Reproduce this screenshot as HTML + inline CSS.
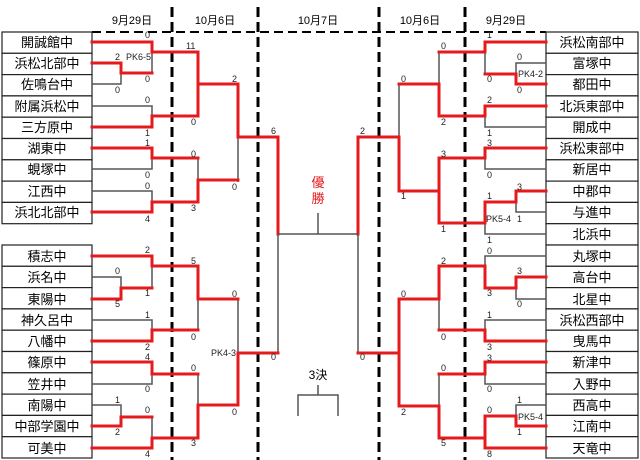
<!DOCTYPE html>
<html><head><meta charset="utf-8"><style>
html,body{margin:0;padding:0;background:#fff;}
svg{display:block;font-family:"Liberation Sans","Noto Sans CJK JP",sans-serif;}
.r{stroke:#e41a1c;stroke-width:3;fill:none;stroke-linecap:square}
.g{stroke:#555;stroke-width:1.5;fill:none}
.d{stroke:#000;stroke-width:3;stroke-dasharray:10 5;fill:none}
.dh{stroke:#000;stroke-width:2;stroke-dasharray:9 5;fill:none}
.n{font-size:9px;fill:#222}
.h{font-size:11px;fill:#000;text-anchor:middle}
.b{font-size:13px;fill:#000;text-anchor:middle}
rect{fill:#fff;stroke:#222;stroke-width:1.2}
</style></head><body>
<svg width="640" height="460" viewBox="0 0 640 460">
<!-- headers -->
<text class="h" x="132" y="24">9月29日</text>
<text class="h" x="215" y="24">10月6日</text>
<text class="h" x="318" y="24">10月7日</text>
<text class="h" x="420" y="24">10月6日</text>
<text class="h" x="506" y="24">9月29日</text>
<line class="dh" x1="92" y1="32" x2="546" y2="32"/>
<line class="d" x1="172" y1="7" x2="172" y2="460"/>
<line class="d" x1="258" y1="7" x2="258" y2="460"/>
<line class="d" x1="379" y1="7" x2="379" y2="460"/>
<line class="d" x1="465" y1="7" x2="465" y2="460"/>

<!-- left boxes -->
<g>
<rect x="2" y="32" width="90" height="21.3"/><rect x="2" y="53.3" width="90" height="21.3"/><rect x="2" y="74.6" width="90" height="21.3"/><rect x="2" y="95.9" width="90" height="21.3"/><rect x="2" y="117.2" width="90" height="21.3"/><rect x="2" y="138.5" width="90" height="21.3"/><rect x="2" y="159.8" width="90" height="21.3"/><rect x="2" y="181.1" width="90" height="21.3"/><rect x="2" y="202.4" width="90" height="21.3"/>
<rect x="2" y="245" width="90" height="21.3"/><rect x="2" y="266.3" width="90" height="21.3"/><rect x="2" y="287.6" width="90" height="21.3"/><rect x="2" y="308.9" width="90" height="21.3"/><rect x="2" y="330.2" width="90" height="21.3"/><rect x="2" y="351.5" width="90" height="21.3"/><rect x="2" y="372.8" width="90" height="21.3"/><rect x="2" y="394.1" width="90" height="21.3"/><rect x="2" y="415.4" width="90" height="21.3"/><rect x="2" y="436.7" width="90" height="21.3"/>
</g>
<g class="b">
<text x="47" y="47">開誠館中</text><text x="47" y="68">浜松北部中</text><text x="47" y="89">佐鳴台中</text><text x="47" y="111">附属浜松中</text><text x="47" y="132">三方原中</text><text x="47" y="153">湖東中</text><text x="47" y="174">蜆塚中</text><text x="47" y="196">江西中</text><text x="47" y="217">浜北北部中</text>
<text x="47" y="261">積志中</text><text x="47" y="282">浜名中</text><text x="47" y="304">東陽中</text><text x="47" y="325">神久呂中</text><text x="47" y="346">八幡中</text><text x="47" y="367">篠原中</text><text x="47" y="389">笠井中</text><text x="47" y="410">南陽中</text><text x="47" y="431">中部学園中</text><text x="47" y="453">可美中</text>
</g>
<!-- right boxes -->
<g>
<rect x="546" y="32" width="92" height="21.3"/><rect x="546" y="53.3" width="92" height="21.3"/><rect x="546" y="74.6" width="92" height="21.3"/><rect x="546" y="95.9" width="92" height="21.3"/><rect x="546" y="117.2" width="92" height="21.3"/><rect x="546" y="138.5" width="92" height="21.3"/><rect x="546" y="159.8" width="92" height="21.3"/><rect x="546" y="181.1" width="92" height="21.3"/><rect x="546" y="202.4" width="92" height="21.3"/><rect x="546" y="223.7" width="92" height="21.3"/>
<rect x="546" y="245" width="92" height="21.3"/><rect x="546" y="266.3" width="92" height="21.3"/><rect x="546" y="287.6" width="92" height="21.3"/><rect x="546" y="308.9" width="92" height="21.3"/><rect x="546" y="330.2" width="92" height="21.3"/><rect x="546" y="351.5" width="92" height="21.3"/><rect x="546" y="372.8" width="92" height="21.3"/><rect x="546" y="394.1" width="92" height="21.3"/><rect x="546" y="415.4" width="92" height="21.3"/><rect x="546" y="436.7" width="92" height="21.3"/>
</g>
<g class="b">
<text x="592" y="47">浜松南部中</text><text x="592" y="68">富塚中</text><text x="592" y="89">都田中</text><text x="592" y="111">北浜東部中</text><text x="592" y="132">開成中</text><text x="592" y="153">浜松東部中</text><text x="592" y="174">新居中</text><text x="592" y="196">中郡中</text><text x="592" y="217">与進中</text><text x="592" y="239">北浜中</text>
<text x="592" y="261">丸塚中</text><text x="592" y="282">高台中</text><text x="592" y="304">北星中</text><text x="592" y="325">浜松西部中</text><text x="592" y="346">曳馬中</text><text x="592" y="367">新津中</text><text x="592" y="389">入野中</text><text x="592" y="410">西高中</text><text x="592" y="431">江南中</text><text x="592" y="453">天竜中</text>
</g>

<!-- LEFT TOP lines -->
<path class="g" d="M92 84H121V73 M152 52V73 M92 106H152V116 M198 84V117 M92 169H152V158 M92 191H152V202 M198 159V180 M238 137V182"/>
<path class="r" d="M92 42H152V52H198V84H238V137H278V234 M92 63H121V73H152 M92 127H152V116H198V84 M92 148H152V158H198 M92 212H152V202H198V180H238"/>
<!-- LEFT BOTTOM lines -->
<path class="g" d="M92 277H121V288 M152 266V288 M92 320H152V330 M198 299V330 M92 384H152V374 M92 405H121V417 M152 417V438 M198 374V405 M238 299V353 M278 234V353"/>
<path class="r" d="M92 256H152V266H198V299H238 M92 299H121V288H152 M92 341H152V330H198 M92 362H152V374H198 M92 426H121V417H152 M92 448H152V438H198V405H238V353H278"/>

<!-- RIGHT TOP lines -->
<path class="g" d="M546 63H516V74 M485 52V74 M546 127H485V116 M439 52V84 M546 169H485V158 M546 212H516V202 M546 234H485V223 M399 84V137"/>
<path class="r" d="M546 42H485V52H439 M546 84H516V74H485 M546 106H485V116H439V84H399 M546 148H485V158H439V223 M546 191H516V202H485V223H439 M439 191H399V137H358V234"/>
<!-- RIGHT BOTTOM lines -->
<path class="g" d="M546 256H485V266 M546 299H516V288 M546 320H485V330 M439 299V330 M546 384H485V374 M546 405H516V416 M439 374V406 M358 234V353"/>
<path class="r" d="M546 277H516V288H485V266H439V299H399V406 M546 341H485V330H439 M546 362H485V374H439 M546 426H516V416H485 M546 448H485V416 M485 438H439V406H399 M399 353H358"/>

<!-- center -->
<path class="g" d="M278 234H358 M318 213V234 M298 416V395H338V416 M318 385V395"/>
<text x="318" y="187" style="font-size:13px;fill:#e41a1c;text-anchor:middle">優</text>
<text x="318" y="203" style="font-size:13px;fill:#e41a1c;text-anchor:middle">勝</text>
<text x="318" y="379" style="font-size:12px;fill:#000;text-anchor:middle">3決</text>

<!-- scores left -->
<g class="n">
<text x="145" y="38">0</text><text x="115" y="60">2</text><text x="126" y="60">PK6-5</text><text x="145" y="82">0</text><text x="115" y="93">0</text>
<text x="186" y="49">11</text><text x="232" y="82">2</text><text x="191" y="125">0</text><text x="271" y="134">6</text>
<text x="145" y="103">0</text><text x="145" y="136">1</text><text x="145" y="146">1</text><text x="191" y="157">0</text><text x="145" y="178">0</text><text x="145" y="189">0</text><text x="232" y="190">0</text><text x="191" y="211">3</text><text x="145" y="222">4</text>
<text x="145" y="253">2</text><text x="115" y="274">0</text><text x="145" y="296">1</text><text x="115" y="307">5</text><text x="191" y="264">5</text><text x="232" y="297">0</text>
<text x="145" y="318">1</text><text x="191" y="340">0</text><text x="145" y="350">2</text><text x="211" y="356">PK4-3</text><text x="271" y="360">0</text>
<text x="145" y="360">4</text><text x="191" y="371">0</text><text x="145" y="392">0</text><text x="115" y="403">1</text><text x="145" y="413">0</text><text x="115" y="435">2</text><text x="232" y="415">0</text><text x="191" y="446">3</text><text x="145" y="457">4</text>
</g>
<!-- scores right -->
<g class="n">
<text x="487" y="38">1</text><text x="517" y="60">0</text><text x="518" y="77">PK4-2</text><text x="487" y="82">0</text><text x="517" y="93">0</text>
<text x="441" y="49">0</text><text x="401" y="82">0</text><text x="487" y="103">2</text><text x="441" y="125">2</text><text x="487" y="136">1</text><text x="487" y="146">3</text>
<text x="360" y="134">2</text><text x="441" y="157">3</text><text x="487" y="178">0</text><text x="517" y="190">3</text><text x="487" y="199">1</text><text x="401" y="199">1</text>
<text x="486" y="222">PK5-4</text><text x="517" y="222">1</text><text x="441" y="232">1</text><text x="487" y="243">1</text>
<text x="487" y="254">0</text><text x="441" y="264">2</text><text x="517" y="274">3</text><text x="487" y="296">3</text><text x="401" y="297">0</text><text x="517" y="307">0</text>
<text x="487" y="318">1</text><text x="441" y="340">0</text><text x="487" y="350">3</text><text x="360" y="360">0</text><text x="487" y="361">3</text><text x="441" y="371">0</text><text x="487" y="392">0</text>
<text x="517" y="403">1</text><text x="487" y="413">0</text><text x="518" y="420">PK5-4</text><text x="401" y="415">2</text><text x="517" y="435">1</text><text x="441" y="446">5</text><text x="487" y="457">8</text>
</g>
</svg>
</body></html>
